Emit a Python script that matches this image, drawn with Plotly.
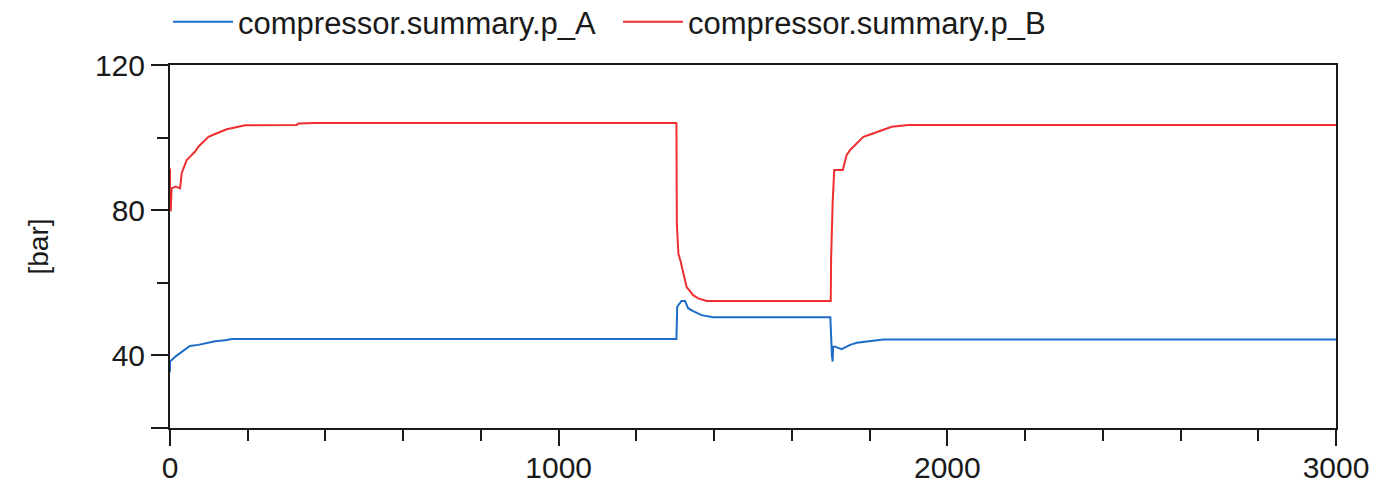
import plotly.graph_objects as go

# ---- data ----
t_A = [0, 0, 13, 26, 39, 51, 73, 99, 116, 142, 159, 1303,
       1304, 1305, 1316, 1325, 1333, 1346, 1368, 1397, 1699,
       1701, 1703, 1705, 1706, 1711, 1719, 1728, 1737, 1750, 1767, 1788, 1835, 3000]
p_A = [35.5, 38.3, 39.6, 40.6, 41.7, 42.6, 42.9, 43.5, 43.9, 44.2, 44.5, 44.5,
       53.4, 53.4, 55.0, 55.0, 53.0, 52.2, 51.1, 50.5, 50.5,
       43.8, 40.0, 38.3, 42.4, 42.4, 42.0, 41.7, 42.2, 42.9, 43.5, 43.8, 44.4, 44.4]

t_B = [0, 0, 2, 4, 15, 21, 26, 30, 34, 43, 51, 64, 73, 86, 99, 116, 129, 146, 167,
       193, 326, 330, 373, 1303,
       1304, 1308, 1314, 1319, 1325, 1329, 1338, 1346, 1359, 1381, 1700,
       1701, 1705, 1709, 1731, 1741, 1750, 1767, 1784, 1805, 1827, 1857, 1900, 3000]
p_B = [91.5, 80.0, 80.0, 86.0, 86.5, 86.3, 86.0, 90.2, 91.5, 93.8, 94.7, 96.1, 97.5, 98.9, 100.2, 101.0, 101.6, 102.3, 102.8,
       103.4, 103.5, 103.9, 104.0, 104.0,
       76.4, 68.1, 65.8, 63.1, 60.8, 58.9, 57.6, 56.6, 55.7, 55.0, 55.0,
       66.7, 82.3, 91.1, 91.1, 95.2, 96.6, 98.4, 100.2, 101.0, 101.9, 103.0, 103.5, 103.5]

x_ticks = [0, 1000, 2000, 3000]
y_ticks = [20, 40, 80, 120]
y_ticktext = ["", "40", "80", "120"]

names = ["compressor.summary.p_A", "compressor.summary.p_B"]
colors = ["#1c6cc8", "#ee2e2f"]

FONT = "Liberation Sans, Arial, sans-serif"

fig = go.Figure()
fig.add_trace(go.Scatter(x=t_A, y=p_A, mode="lines", name=names[0],
                         line=dict(color=colors[0], width=2)))
fig.add_trace(go.Scatter(x=t_B, y=p_B, mode="lines", name=names[1],
                         line=dict(color=colors[1], width=2)))

axis_common = dict(
    showgrid=False, zeroline=False,
    showline=True, linecolor="#1a1a1a", linewidth=2, mirror=True,
    ticks="outside", tickwidth=2, tickcolor="#1a1a1a",
    tickfont=dict(family=FONT, size=30, color="#1a1a1a"),
)

fig.update_xaxes(range=[0, 3000], tickvals=x_ticks, ticklen=16, ticklabelstandoff=-4,
                 minor=dict(dtick=200, ticklen=11, tickwidth=2, tickcolor="#1a1a1a", ticks="outside"),
                 **axis_common)
fig.update_yaxes(range=[20, 120], tickvals=y_ticks, ticktext=y_ticktext, ticklen=17,
                 minor=dict(dtick=20, ticklen=11, tickwidth=2, tickcolor="#1a1a1a", ticks="outside"),
                 title=dict(text="[bar]", font=dict(family=FONT, size=28, color="#1a1a1a"), standoff=38),
                 **axis_common)

fig.update_layout(
    width=1395, height=482,
    margin=dict(l=170, r=59, t=65, b=54, autoexpand=False),
    plot_bgcolor="white", paper_bgcolor="white",
    showlegend=True,
    legend=dict(orientation="h", xref="container", yref="container",
                x=168 / 1395, xanchor="left", y=1 - 22 / 482, yanchor="middle",
                font=dict(family=FONT, size=31, color="#1a1a1a"),
                itemwidth=60, entrywidth=375, bgcolor="rgba(0,0,0,0)"),
)

fig.write_html("out.html")
